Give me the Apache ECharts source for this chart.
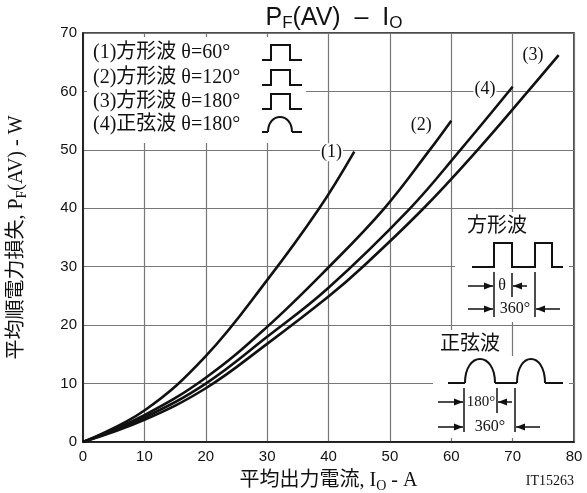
<!DOCTYPE html>
<html>
<head>
<meta charset="utf-8">
<script src="https://cdn.jsdelivr.net/npm/echarts@6/dist/echarts.min.js"></script>
<style>
  html, body { margin: 0; padding: 0; background: #fff; }
  #chart { width: 587px; height: 493px; }
</style>
</head>
<body>
<div id="chart"></div>
<script>
// values: [I_O (A), P_F(AV) (W)]
const curve1 = [[0,0],[10,5.4],[20,14.7],[30,27.7],[38.5,40],[44.2,49.7]];
const curve2 = [[0,0],[10,4.6],[20,11],[30,19.7],[40.1,30],[49.1,40],[56.5,50],[60,55]];
const curve3 = [[0,0],[10,3.8],[20,9.2],[30,16.8],[40,24.9],[45.6,30],[55.5,40],[64.3,50],[72.5,60],[77.5,66.2]];
const curve4 = [[0,0],[10,4.2],[20,10],[30,18],[40,26.4],[53.3,40],[61.5,50],[70,60.8]];

const curveNames = ['(1)', '(2)', '(3)', '(4)'];
const curveLabelAt = [[40.5,49.6],[55.1,54.2],[73.3,66.2],[65.5,60.3]];
const legendRows = ['(1)方形波 θ=60°', '(2)方形波 θ=120°', '(3)方形波 θ=180°', '(4)正弦波 θ=180°'];

const xMin = 0, xMax = 80, xStep = 10;
const yMin = 0, yMax = 70, yStep = 10;

const SERIF = "'Liberation Serif','Noto Sans CJK JP',serif";
const SANS = "'Liberation Sans',Arial,sans-serif";
const INK = '#111';

const chart = echarts.init(document.getElementById('chart'), null, { renderer: 'canvas' });

// small drawing helpers for the legend box and the waveform sketches
function line(points, width) {
  return { type: 'polyline', z: 10, shape: { points: points },
    style: { stroke: INK, lineWidth: width || 2, fill: null } };
}
function hump(x1, x2, y, top, width) {
  const c = y - (y - top) / 0.75;
  return { type: 'bezierCurve', z: 10,
    shape: { x1: x1, y1: y, x2: x2, y2: y, cpx1: x1, cpy1: c, cpx2: x2, cpy2: c },
    style: { stroke: INK, lineWidth: width || 2, fill: null } };
}
function arrow(from, to, y) {
  const d = to > from ? 1 : -1;
  return [
    line([[from, y], [to, y]], 1.5),
    { type: 'polygon', z: 10, shape: { points: [[to, y], [to - d * 9, y - 3.5], [to - d * 9, y + 3.5]] },
      style: { fill: INK } }
  ];
}
function txt(x, y, text, size, align, font) {
  return { type: 'text', z: 11, x: x, y: y,
    style: { text: text, fill: INK, font: size + 'px ' + (font || SERIF),
      align: align || 'center', verticalAlign: 'middle' } };
}
function box(x1, y1, x2, y2) {
  return { type: 'rect', z: 5, shape: { x: x1, y: y1, width: x2 - x1, height: y2 - y1 },
    style: { fill: '#fff' } };
}

const graphics = [];
// legend block
graphics.push(box(87, 37, 306, 143));
const rowY = [53, 78, 102, 125];
legendRows.forEach(function (t, i) {
  const y = rowY[i], b = y + 7, tp = y - 8;
  graphics.push(txt(93, y, t, 20, 'left'));
  if (i < 3) {
    graphics.push(line([[262, b], [271, b], [271, tp], [290, tp], [290, b], [302, b]], 2));
  } else {
    graphics.push(line([[262, b], [268, b]], 2), hump(268, 292, b, tp, 2), line([[292, b], [302, b]], 2));
  }
});

// square wave sketch
graphics.push(box(455, 212, 569, 322));
graphics.push(txt(497, 227, '方形波', 20));
graphics.push(line([[472,267],[494,267],[494,243],[512,243],[512,267],[535,267],[535,243],[552,243],[552,267],[563,267]], 2));
graphics.push(line([[494,272],[494,317]], 1.5), line([[512,273],[512,297]], 1.5), line([[535,272],[535,317]], 1.5));
graphics.push(...arrow(468, 493, 286), txt(502, 286, 'θ', 16), ...arrow(527, 513, 286));
graphics.push(...arrow(468, 493, 309), txt(515, 309, '360°', 16), ...arrow(560, 536, 309));

// sine wave sketch
graphics.push(box(436, 330, 503, 356), box(433, 356, 569, 438));
graphics.push(txt(470, 345, '正弦波', 20));
graphics.push(line([[448,383],[465,383]], 2), hump(465, 495, 383, 359, 2),
  line([[495,383],[517,383]], 2), hump(517, 545, 383, 359, 2), line([[545,383],[563,383]], 2));
graphics.push(line([[464,388],[464,432]], 1.5), line([[497,388],[497,413]], 1.5), line([[515,388],[515,432]], 1.5));
graphics.push(...arrow(438, 463, 402), txt(481, 402, '180°', 15), ...arrow(512, 498, 402));
graphics.push(...arrow(438, 463, 427), txt(490, 427, '360°', 16), ...arrow(540, 516, 427));

// drawing number
graphics.push(txt(574, 481, 'IT15263', 14, 'right'));

const subRich = {
  a: { fontFamily: SERIF, fontSize: 20, color: INK, lineHeight: 22 },
  s: { fontFamily: SERIF, fontSize: 14, color: INK, lineHeight: 14, padding: [10, 0, 0, 0] }
};

function lineSeries(name, data, i) {
  return {
    name: name, type: 'line', data: data, smooth: 0.4,
    showSymbol: false, silent: true,
    lineStyle: { color: INK, width: 2.6 },
    markPoint: {
      symbol: 'circle', symbolSize: 1, itemStyle: { color: 'rgba(0,0,0,0)' },
      label: { show: true, position: 'inside', formatter: name, color: INK,
        fontFamily: SERIF, fontSize: 18, backgroundColor: '#fff', padding: [0, 1] },
      data: [{ coord: curveLabelAt[i] }]
    }
  };
}

chart.setOption({
  animation: false,
  backgroundColor: '#fff',
  title: {
    text: '{a|P}{s|F}{a|(AV)  –  I}{s|O}',
    left: 329, top: 0, textAlign: 'center',
    textStyle: {
      rich: {
        a: { fontFamily: SANS, fontSize: 25, fontWeight: 'normal', color: INK, lineHeight: 26 },
        s: { fontFamily: SANS, fontSize: 17, fontWeight: 'normal', color: INK, lineHeight: 17, padding: [11, 0, 0, 0] }
      }
    }
  },
  grid: { left: 83, right: 13, top: 33, bottom: 51, show: true, borderColor: INK, borderWidth: 1.5,
    containLabel: false, outerBoundsMode: 'none' },
  xAxis: {
    type: 'value', min: xMin, max: xMax, interval: xStep,
    name: '{a|平均出力電流, I}{s|O}{a| - A}',
    nameLocation: 'middle', nameGap: 28,
    nameTextStyle: { rich: subRich },
    axisLine: { lineStyle: { color: INK, width: 1.5 } },
    axisTick: { show: false },
    axisLabel: { color: INK, fontFamily: SANS, fontSize: 15, margin: 7 },
    splitLine: { lineStyle: { color: '#777', width: 1.2 } }
  },
  yAxis: {
    type: 'value', min: yMin, max: yMax, interval: yStep,
    name: '{a|平均順電力損失, P}{s|F}{a|(AV) - W}',
    nameLocation: 'middle', nameGap: 55, nameRotate: 90,
    nameTextStyle: { rich: subRich },
    axisLine: { lineStyle: { color: INK, width: 1.5 } },
    axisTick: { show: false },
    axisLabel: { color: INK, fontFamily: SANS, fontSize: 15, margin: 6 },
    splitLine: { lineStyle: { color: '#777', width: 1.2 } }
  },
  series: [
    lineSeries(curveNames[0], curve1, 0),
    lineSeries(curveNames[1], curve2, 1),
    lineSeries(curveNames[2], curve3, 2),
    lineSeries(curveNames[3], curve4, 3)
  ],
  graphic: { elements: graphics }
});
</script>
</body>
</html>
